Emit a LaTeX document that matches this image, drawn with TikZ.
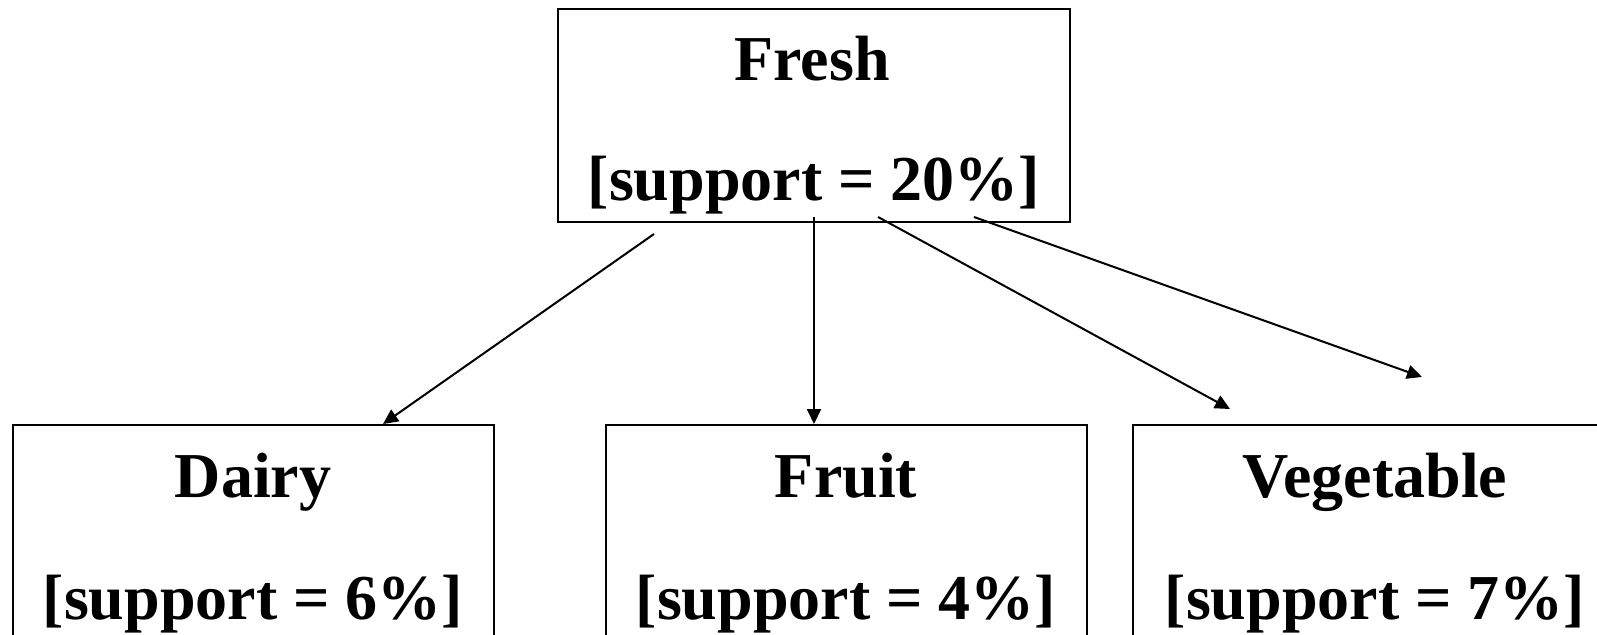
\documentclass[tikz,border=0pt]{standalone}
\usepackage{fontspec}
\setmainfont{Liberation Serif}
\usetikzlibrary{arrows.meta}
\begin{document}
\begin{tikzpicture}[x=1pt,y=-1pt,
  box/.style={draw,line width=2.5pt,rectangle,inner sep=0pt,outer sep=0pt},
  lbl/.style={anchor=base,inner sep=0pt,font=\fontsize{64}{70}\selectfont\bfseries},
  arr/.style={line width=2pt,-{Triangle[length=15pt,width=14pt]}}]
\useasboundingbox (0,0) rectangle (1597,634);
\clip (0,0) rectangle (1597,634);
% boxes
\node[box,minimum width=512pt,minimum height=213pt] (fresh) at (814,115.5) {};
\node[box,minimum width=481pt,minimum height=335pt] (dairy) at (253.5,592.5) {};
\node[box,minimum width=481pt,minimum height=335pt] (fruit) at (846.5,592.5) {};
\node[box,minimum width=484pt,minimum height=335pt] (veg) at (1375,592.5) {};
% labels
\node[lbl] (freshA) at (812,80) {Fresh};
\node[lbl] (freshB) at (814,200) {[support = 20\%]};
\node[lbl] (dairyA) at (253,497) {Dairy};
\node[lbl] (dairyB) at (253,619) {[support = 6\%]};
\node[lbl] (fruitA) at (846,497) {Fruit};
\node[lbl] (fruitB) at (846,619) {[support = 4\%]};
\node[lbl] (vegA) at (1375,497) {Vegetable};
\node[lbl] (vegB) at (1375,619) {[support = 7\%]};
% connector ends
\coordinate (s1) at (654,234);
\coordinate (e1) at (383,424);
\coordinate (s2) at (814,217);
\coordinate (e2) at (814,424);
\coordinate (s3) at (878,217);
\coordinate (e3) at (1230,409);
\coordinate (s4) at (974,217);
\coordinate (e4) at (1422,377);
\draw[arr] (s1) -- (e1);
\draw[arr] (s2) -- (e2);
\draw[arr] (s3) -- (e3);
\draw[arr] (s4) -- (e4);
\end{tikzpicture}
\end{document}
